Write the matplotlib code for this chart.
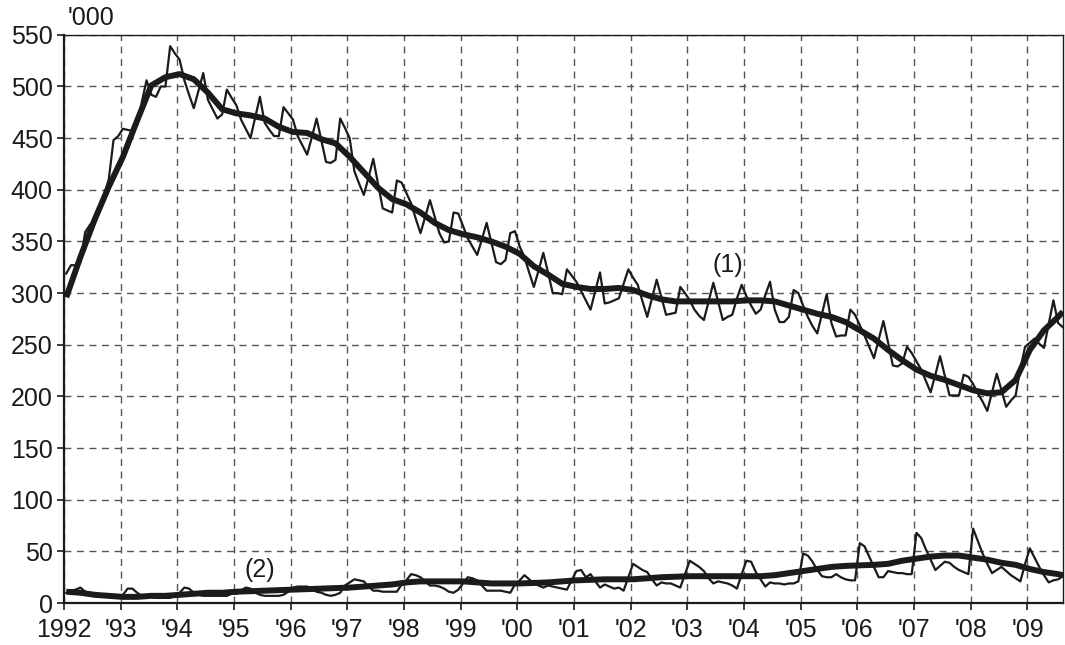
import matplotlib
matplotlib.use('Agg')
import matplotlib.pyplot as plt

plt.rcParams['font.family'] = ['Liberation Sans', 'DejaVu Sans']

# monthly values, Jan 1992 - Aug 2009 ('000)
series1_raw = [
    319, 327, 327, 330, 359, 366, 371, 379, 395, 410, 448, 452,   # 1992
    459, 458, 457, 463, 485, 506, 492, 490, 500, 500, 539, 532,   # 1993
    526, 506, 492, 479, 496, 513, 487, 478, 469, 473, 497, 489,   # 1994
    482, 468, 459, 450, 470, 490, 465, 458, 452, 452, 480, 474,   # 1995
    468, 452, 443, 434, 451, 469, 448, 427, 426, 429, 469, 460,   # 1996
    450, 418, 406, 395, 412, 430, 406, 382, 380, 378, 409, 407,   # 1997
    397, 387, 372, 358, 374, 390, 374, 358, 349, 350, 378, 377,   # 1998
    365, 353, 345, 337, 352, 368, 349, 330, 328, 332, 358, 360,   # 1999
    345, 335, 320, 306, 322, 339, 320, 300, 300, 299, 323, 317,   # 2000
    311, 302, 293, 284, 302, 320, 290, 291, 293, 295, 309, 323,   # 2001
    315, 308, 292, 277, 295, 313, 296, 279, 280, 281, 306, 300,   # 2002
    293, 284, 278, 274, 292, 310, 292, 274, 277, 279, 295, 308,   # 2003
    297, 288, 280, 284, 298, 311, 284, 272, 272, 277, 303, 300,   # 2004
    288, 277, 268, 261, 280, 299, 271, 258, 259, 259, 284, 279,   # 2005
    269, 259, 248, 237, 255, 273, 252, 230, 229, 232, 248, 242,   # 2006
    234, 226, 215, 204, 221, 239, 220, 201, 201, 201, 221, 219,   # 2007
    212, 203, 195, 186, 204, 222, 206, 190, 196, 201, 227, 248,   # 2008
    252, 256, 251, 247, 270, 293, 271, 267,                       # 2009
]

series2_raw = [
    10, 12, 13, 15, 11, 9, 8, 7, 6, 6, 6, 6,          # 1992
    8, 14, 14, 10, 7, 6, 6, 5, 5, 5, 5, 8,            # 1993
    10, 15, 14, 10, 8, 7, 7, 7, 7, 7, 7, 9,           # 1994
    9, 12, 15, 14, 10, 8, 7, 7, 7, 7, 8, 11,          # 1995
    15, 16, 16, 16, 13, 11, 10, 8, 7, 8, 10, 17,      # 1996
    20, 23, 22, 21, 16, 12, 12, 11, 11, 11, 11, 18,   # 1997
    22, 28, 27, 25, 21, 17, 17, 16, 14, 11, 10, 13,   # 1998
    19, 25, 24, 22, 17, 12, 12, 12, 12, 11, 10, 18,   # 1999
    22, 27, 23, 19, 17, 15, 17, 16, 15, 14, 13, 22,   # 2000
    31, 32, 25, 28, 21, 15, 18, 16, 14, 15, 12, 25,   # 2001
    38, 35, 32, 30, 23, 17, 20, 19, 19, 17, 15, 28,   # 2002
    41, 38, 35, 31, 24, 19, 21, 20, 19, 17, 14, 28,   # 2003
    41, 40, 30, 23, 16, 20, 19, 19, 18, 19, 19, 21,   # 2004
    48, 46, 40, 32, 26, 25, 25, 28, 25, 23, 22, 22,   # 2005
    58, 55, 45, 35, 25, 25, 31, 30, 29, 29, 28, 28,   # 2006
    68, 63, 52, 42, 32, 36, 40, 39, 35, 32, 30, 28,   # 2007
    72, 60, 48, 38, 29, 32, 35, 31, 27, 24, 21, 38,   # 2008
    53, 44, 35, 27, 20, 22, 23, 26,                   # 2009
]

# trend values, read every third month (plus the last month)
trend_months = list(range(0, 211, 3)) + [211]

series1_trend = [
    296, 335, 371, 403, 432, 467, 501, 509, 512, 507, 494, 478,   # 1992-94
    474, 472, 469, 461, 456, 455, 449, 445, 432, 417, 402, 391,   # 1995-97
    386, 378, 368, 361, 357, 354, 350, 345, 338, 326, 318, 309,   # 1998-00
    306, 304, 304, 305, 303, 298, 294, 292, 292, 292, 292, 292,   # 2001-03
    293, 293, 292, 288, 284, 280, 277, 272, 264, 256, 245, 235,   # 2004-06
    226, 220, 216, 211, 206, 203, 204, 216, 245, 264, 277, 282,   # 2007-09
]

series2_trend = [
    11, 10, 8, 7, 6, 6, 7, 7, 8, 9, 10, 10,                # 1992-94
    11, 11.5, 12, 12.5, 13, 13.5, 14, 14.5, 15, 16, 17, 18,  # 1995-97
    20, 21, 21, 21, 21, 20, 19, 19, 19, 19.5, 20, 21,       # 1998-00
    22, 22.5, 23, 23, 23, 24, 25, 25.5, 26, 26, 26, 26,     # 2001-03
    26, 26, 27, 29, 31, 33, 35, 36, 36.5, 37, 38, 41,       # 2004-06
    43, 45, 46, 46, 44, 42, 39, 37, 33, 30, 28, 27,         # 2007-09
]

years = list(range(1992, 2010))
year_labels = ['1992'] + ["'%02d" % (y % 100) for y in years[1:]]

x_raw = [1992 + (i + 0.5) / 12 for i in range(len(series1_raw))]
x_trend = [1992 + (m + 0.5) / 12 for m in trend_months]

ink = '#1c1a1a'
fs = 18

fig = plt.figure(figsize=(10.65, 6.45), dpi=100)
ax = fig.add_axes([0.060, 0.065, 0.938, 0.881])

ax.plot(x_raw, series1_raw, color=ink, lw=1.6, zorder=3)
ax.plot(x_trend, series1_trend, color=ink, lw=4.3, zorder=4,
        solid_capstyle='butt', solid_joinstyle='round')
ax.plot(x_raw, series2_raw, color=ink, lw=1.6, zorder=3)
ax.plot(x_trend, series2_trend, color=ink, lw=4.3, zorder=4,
        solid_capstyle='butt', solid_joinstyle='round')

ax.set_xlim(1992, x_raw[-1])
ax.set_ylim(0, 550)
ax.set_xticks(years)
ax.set_xticklabels(year_labels)
ax.set_yticks(range(0, 551, 50))

ax.grid(True, color='#555555', lw=1.0, linestyle=(0, (5, 4)), zorder=1)
ax.set_axisbelow(True)

for s in ax.spines.values():
    s.set_linewidth(1.6)
    s.set_color(ink)
ax.spines['top'].set_linewidth(1.0)
ax.spines['right'].set_linewidth(1.0)

ax.tick_params(axis='both', direction='out', length=5, width=1.2,
               colors=ink, labelsize=fs)
ax.tick_params(axis='y', pad=3)
ax.tick_params(axis='x', pad=6)

ax.text(0.004, 1.008, "'000", transform=ax.transAxes, ha='left', va='bottom',
        fontsize=fs, color=ink)
ax.text(2003.72, 327, '(1)', ha='center', va='center', fontsize=fs, color=ink)
ax.text(1995.45, 32, '(2)', ha='center', va='center', fontsize=fs, color=ink)

fig.savefig('out.png', dpi=100)
